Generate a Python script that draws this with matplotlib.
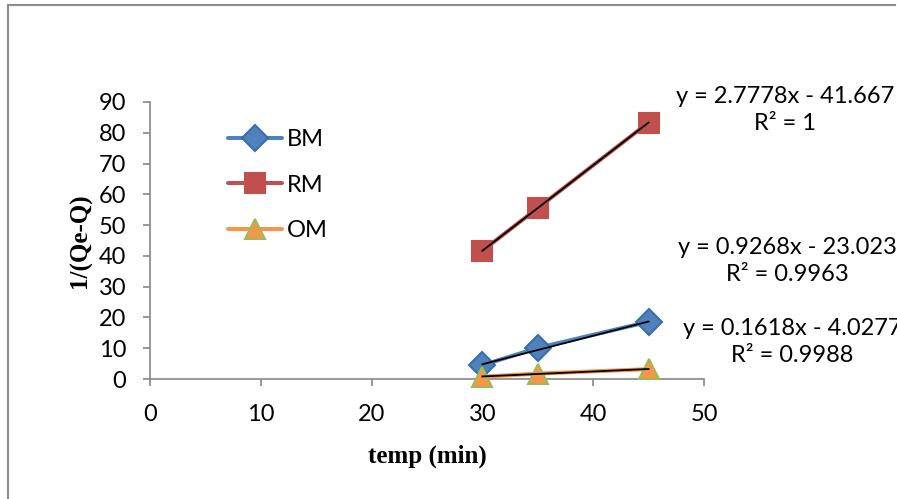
import numpy as np
import matplotlib
matplotlib.use("Agg")
import matplotlib.pyplot as plt
from matplotlib.lines import Line2D

# Data
temp = [30, 35, 45]
bm = [4.5, 10.1, 18.6]
rm = [41.67, 55.56, 83.33]
om = [0.75, 1.75, 3.2]

# Linear trendline coefficients (slope, intercept) and R²
fit_rm = (2.7778, -41.667, "1")
fit_bm = (0.9268, -23.023, "0.9963")
fit_om = (0.1618, -4.0277, "0.9988")

x_ticks = [0, 10, 20, 30, 40, 50]
y_ticks = [0, 10, 20, 30, 40, 50, 60, 70, 80, 90]

FONT = "Lato"
FS = 17
AXIS_GRAY = "#868686"

fig = plt.figure(figsize=(8.97, 4.99), dpi=100)
fig.patch.set_facecolor("white")

# chart-area border (top and left edges; the rest runs off the canvas)
bx, by = 8 / 897, 1 - 5 / 499
fig.add_artist(Line2D([bx, 895 / 897], [by, by], transform=fig.transFigure,
                      color="#8c8c8c", lw=1.5))
fig.add_artist(Line2D([bx, bx], [0.0, by], transform=fig.transFigure,
                      color="#8c8c8c", lw=1.5))

ax = fig.add_axes([150 / 897, 1 - 379 / 499, 554 / 897, 277 / 499])
ax.set_xlim(0, 50)
ax.set_ylim(0, 90)

series = [
    ("BM", bm, "#4F81BD", "D", "#3A6EA8", 13),
    ("RM", rm, "#C0504D", "s", "#C0504D", 14),
    ("OM", om, "#F79646", "^", "#9BBB59", 14),
]
for name, vals, col, mk, edge, ms in series:
    ax.plot(temp, vals, color=col, lw=2.9, marker=mk, markersize=ms,
            markerfacecolor=col, markeredgecolor=edge, markeredgewidth=1.5,
            solid_capstyle="round", zorder=3, clip_on=False)

# black trendlines
xt = np.array([temp[0], temp[-1]])
for slope, icpt, _ in (fit_bm, fit_rm, fit_om):
    ax.plot(xt, slope * xt + icpt, color="black", lw=1.3, zorder=4)

for s in ("top", "right"):
    ax.spines[s].set_visible(False)
for s in ("left", "bottom"):
    ax.spines[s].set_color(AXIS_GRAY)
    ax.spines[s].set_linewidth(1.2)

ax.set_xticks(x_ticks)
ax.set_yticks(y_ticks)
ax.tick_params(axis="both", direction="out", length=5, width=1.2,
               color=AXIS_GRAY, labelsize=FS)
ax.tick_params(axis="x", pad=13)
ax.tick_params(axis="y", pad=12)
for lab in ax.get_xticklabels() + ax.get_yticklabels():
    lab.set_fontfamily(FONT)

ax.set_xlabel("temp (min)", fontfamily="Liberation Serif", fontweight="bold",
              fontsize=18, labelpad=14)
ax.set_ylabel("1/(Qe-Q)", fontfamily="Liberation Serif", fontweight="bold",
              fontsize=18, labelpad=5)

# legend
handles = []
for name, vals, col, mk, edge, ms in series:
    handles.append(Line2D([], [], color=col, lw=2.9, marker=mk, markersize=ms,
                          markerfacecolor=col, markeredgecolor=edge,
                          markeredgewidth=1.5, solid_capstyle="round"))
ax.legend(handles, [s[0] for s in series], loc="upper left",
          bbox_to_anchor=(0.141, 0.903), frameon=False, handlelength=2.3,
          handletextpad=0.2, labelspacing=1.05, borderpad=0,
          borderaxespad=0, prop={"family": FONT, "size": FS})

# trendline equations
def eq(fit):
    slope, icpt, r2 = fit
    return f"y = {slope}x - {abs(icpt)}\nR² = {r2}"

for fit, (px, py) in ((fit_rm, (785, 110)), (fit_bm, (787, 261)),
                      (fit_om, (792, 342))):
    fig.text(px / 897, 1 - py / 499, eq(fit), ha="center", va="center",
             fontfamily=FONT, fontsize=FS, linespacing=1.3)

fig.savefig("out.png", dpi=100)
